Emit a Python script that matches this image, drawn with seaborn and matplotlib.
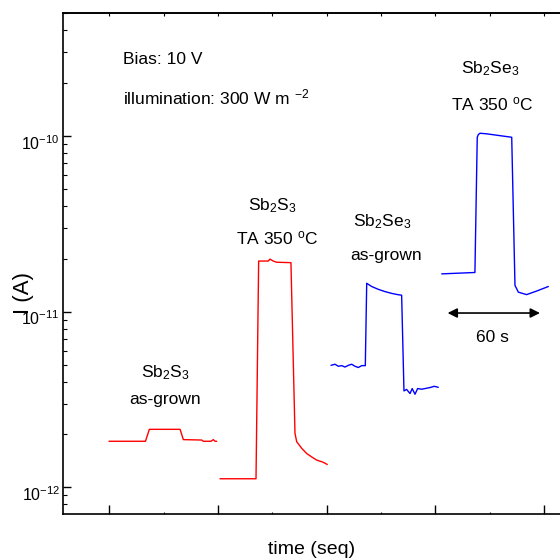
import numpy as np
import pandas as pd
import matplotlib
matplotlib.use("Agg")
import matplotlib.pyplot as plt
import matplotlib.transforms as mtransforms
import seaborn as sns
from matplotlib.ticker import FixedLocator, LogLocator, NullFormatter

# ---- data (time in s, current in A) ----
t_sbs_asgrown = [29.8, 53.3, 55.8, 75.6, 77.7, 89.5, 90.6, 95.5, 97.0, 98.1, 99.2]
i_sbs_asgrown = [1.83e-12, 1.83e-12, 2.14e-12, 2.14e-12, 1.87e-12, 1.86e-12,
                 1.83e-12, 1.83e-12, 1.87e-12, 1.83e-12, 1.83e-12]

t_sbs_ta = [101.3, 124.5, 126.2, 132.4, 133.5, 135.6, 137.8, 147.0, 149.6,
            150.7, 153.9, 157.1, 160.4, 163.6, 167.8, 170.4]
i_sbs_ta = [1.12e-12, 1.12e-12, 1.94e-11, 1.94e-11, 1.99e-11, 1.94e-11, 1.91e-11,
            1.90e-11, 2.03e-12, 1.82e-12, 1.67e-12, 1.56e-12, 1.49e-12, 1.43e-12,
            1.39e-12, 1.35e-12]

t_sbse_asgrown = [172.8, 175.4, 177.5, 179.7, 181.8, 184.0, 186.1, 188.2, 190.4,
                  192.6, 194.9, 195.8, 199.0, 203.2, 207.6, 211.9, 215.7, 218.3,
                  219.8, 221.5, 223.7, 225.1, 226.9, 228.6, 231.2, 233.3, 236.6,
                  239.3, 241.9]
i_sbse_asgrown = [4.95e-12, 5.02e-12, 4.89e-12, 4.93e-12, 4.84e-12, 4.95e-12,
                  5.02e-12, 4.89e-12, 4.81e-12, 4.93e-12, 4.93e-12,
                  1.45e-11, 1.39e-11, 1.34e-11, 1.30e-11, 1.27e-11, 1.25e-11, 1.24e-11,
                  3.54e-12, 3.61e-12, 3.42e-12, 3.65e-12, 3.39e-12, 3.65e-12,
                  3.62e-12, 3.65e-12, 3.70e-12, 3.76e-12, 3.71e-12]

t_sbse_ta = [244.1, 265.5, 267.0, 267.7, 268.8, 273.1, 289.2, 291.3, 293.5,
             298.8, 305.3, 312.8]
i_sbse_ta = [1.64e-11, 1.67e-11, 9.82e-11, 1.017e-10, 1.035e-10, 1.027e-10,
             9.82e-11, 1.41e-11, 1.29e-11, 1.25e-11, 1.31e-11, 1.39e-11]

samples = ["Sb2S3 as-grown", "Sb2S3 TA 350", "Sb2Se3 as-grown", "Sb2Se3 TA 350"]
colors = ["#ff0000", "#ff0000", "#0000ff", "#0000ff"]

label_line1 = ["Sb$_2$S$_3$", "Sb$_2$S$_3$", "Sb$_2$Se$_3$", "Sb$_2$Se$_3$"]
label_line2 = ["as-grown", "TA 350 $^{o}$C", "as-grown", "TA 350 $^{o}$C"]
label1_pos = [(65.9, 4.52e-12), (134.8, 4.02e-11), (206.0, 3.23e-11), (275.0, 2.40e-10)]
label2_pos = [(65.9, 3.18e-12), (138.3, 2.60e-11), (208.2, 2.09e-11), (276.8, 1.52e-10)]

x_major = [30, 100, 170, 240, 310]
x_minor = [65, 135, 205, 275]
y_major = [1e-12, 1e-11, 1e-10]

# ---- build frame ----
df = pd.concat([
    pd.DataFrame({"time": t, "current": i, "sample": s})
    for t, i, s in zip([t_sbs_asgrown, t_sbs_ta, t_sbse_asgrown, t_sbse_ta],
                       [i_sbs_asgrown, i_sbs_ta, i_sbse_asgrown, i_sbse_ta],
                       samples)
], ignore_index=True)

sns.set_theme(style="ticks")
plt.rcParams['font.family'] = ['Liberation Sans', 'DejaVu Sans']
plt.rcParams['axes.unicode_minus'] = False
plt.rcParams['mathtext.default'] = 'regular'

fig = plt.figure(figsize=(5.6, 5.6), dpi=100)
ax = fig.add_axes([0.112, 0.0816, 0.888, 0.8957])

sns.lineplot(data=df, x="time", y="current", hue="sample",
             palette=dict(zip(samples, colors)), estimator=None, sort=False,
             legend=False, linewidth=1.0, ax=ax)

ax.set_yscale("log")
ax.set_xlim(0, 320.3)
ax.set_ylim(7.03e-13, 5.02e-10)

for sp in ["left", "bottom", "top"]:
    ax.spines[sp].set_color("black")
    ax.spines[sp].set_linewidth(1.2)
ax.spines["right"].set_visible(False)

ax.xaxis.set_major_locator(FixedLocator(x_major))
ax.xaxis.set_minor_locator(FixedLocator(x_minor))
ax.tick_params(axis="x", which="major", direction="in", length=6.5, width=1.0,
               color="black", bottom=True, top=False, labelbottom=False)
ax.tick_params(axis="x", which="minor", direction="in", length=1.5, width=0.8,
               color="black", bottom=True, top=False)

ax.yaxis.set_major_locator(FixedLocator(y_major))
ax.yaxis.set_minor_locator(LogLocator(base=10, subs=np.arange(2, 10), numticks=10))
ax.yaxis.set_minor_formatter(NullFormatter())
ax.tick_params(axis="y", which="major", direction="in", length=6, width=1.0,
               color="black", labelsize=11.5, pad=2, left=True, right=False,
               labelcolor="black")
ax.tick_params(axis="y", which="minor", direction="in", length=3, width=0.8,
               color="black", left=True, right=False)

sec = ax.secondary_xaxis("top")
sec.xaxis.set_major_locator(FixedLocator(x_major))
sec.xaxis.set_minor_locator(FixedLocator(x_minor))
sec.tick_params(which="both", direction="in", length=2.5, width=0.8,
                color="black", labeltop=False)
sec.spines["top"].set_color("black")
sec.spines["top"].set_linewidth(1.2)

ax.set_xlabel("time (seq)", fontsize=14, color="black", va="center")
ax.xaxis.set_label_coords(0.5, -0.071)
ax.set_ylabel("I (A)", fontsize=16, color="black", va="center")
ax.yaxis.set_label_coords(-0.079, 0.442)

fs = 12.5
ax.text(38.6, 2.71e-10, "Bias: 10 V", ha="left", va="center", fontsize=fs, color="black")
ax.text(38.6, 1.65e-10, "illumination: 300 W m $^{-2}$", ha="left", va="center",
        fontsize=fs, color="black")

for l1, l2, p1, p2 in zip(label_line1, label_line2, label1_pos, label2_pos):
    ax.text(p1[0], p1[1], l1, ha="center", va="center", fontsize=fs, color="black")
    ax.text(p2[0], p2[1], l2, ha="center", va="center", fontsize=fs, color="black")

ax.annotate("", xy=(247.9, 9.82e-12), xytext=(307.4, 9.82e-12),
            arrowprops=dict(arrowstyle="<|-|>", color="black", lw=1.2,
                            mutation_scale=14, shrinkA=0, shrinkB=0))
ax.text(276.7, 7.17e-12, "60 s", ha="center", va="center", fontsize=fs, color="black")

# tick labels sit slightly below their ticks, as in the original
fig.canvas.draw()
shift = mtransforms.ScaledTranslation(0, -0.06, fig.dpi_scale_trans)
for tk in ax.yaxis.get_major_ticks():
    tk.label1.set_transform(tk.label1.get_transform() + shift)

fig.savefig("out.png", dpi=100)
